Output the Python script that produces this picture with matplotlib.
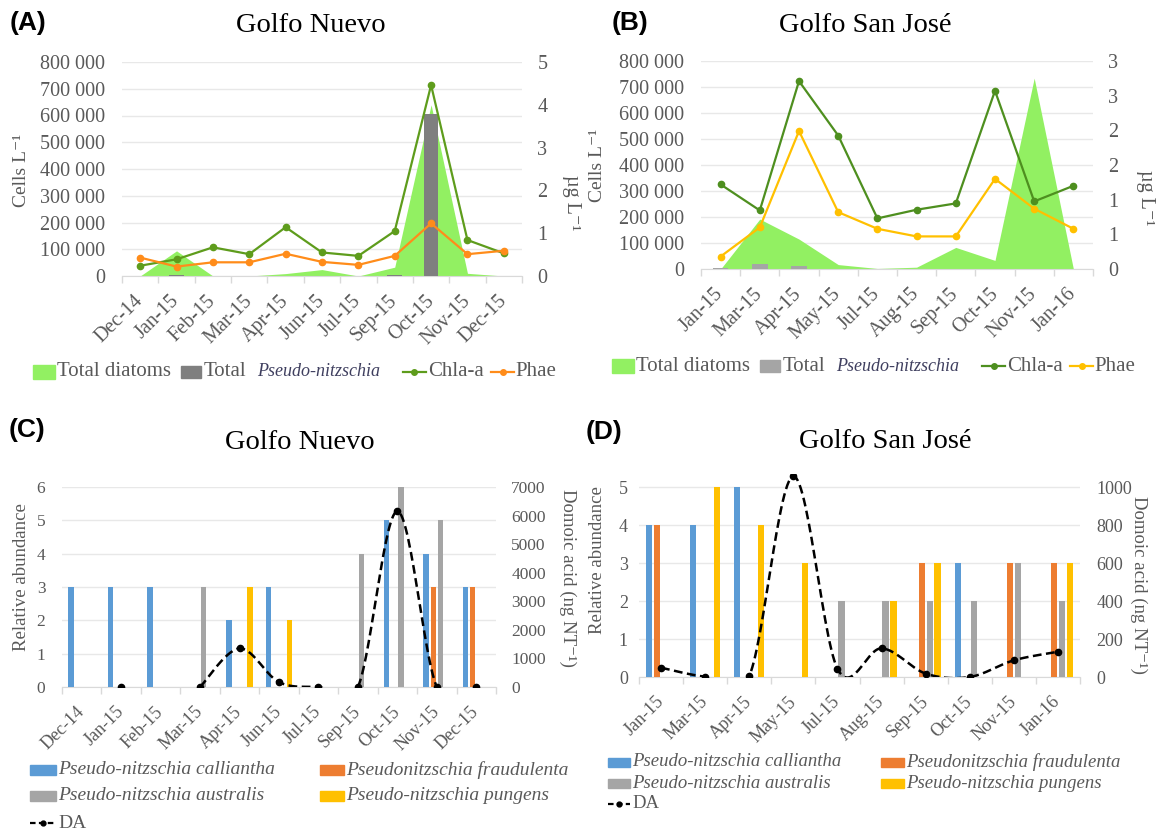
import numpy as np
import matplotlib
matplotlib.use('Agg')
import matplotlib.pyplot as plt
from matplotlib.patches import Rectangle
from matplotlib.lines import Line2D
from matplotlib.ticker import FuncFormatter

plt.rcParams['font.family'] = ['Liberation Serif', 'DejaVu Serif']

# ---- data ----
months_gn = ['Dec-14', 'Jan-15', 'Feb-15', 'Mar-15', 'Apr-15', 'Jun-15',
             'Jul-15', 'Sep-15', 'Oct-15', 'Nov-15', 'Dec-15']
months_gsj = ['Jan-15', 'Mar-15', 'Apr-15', 'May-15', 'Jul-15', 'Aug-15',
              'Sep-15', 'Oct-15', 'Nov-15', 'Jan-16']

# (A) Golfo Nuevo - cells L-1 and ug L-1
diatoms_gn = [0, 94000, 0, 0, 9000, 24000, 0, 33000, 640000, 10000, 0]
pn_total_gn = [0, 3000, 0, 0, 0, 0, 0, 3000, 605000, 0, 0]
chla_gn = [0.24, 0.39, 0.67, 0.51, 1.14, 0.55, 0.47, 1.05, 4.46, 0.84, 0.53]
phae_gn = [0.43, 0.22, 0.32, 0.32, 0.52, 0.33, 0.26, 0.47, 1.23, 0.51, 0.59]

# (B) Golfo San Jose
diatoms_gsj = [0, 192000, 115000, 17000, 2000, 7000, 83000, 33000, 734000, 0]
pn_total_gsj = [2000, 19000, 10000, 0, 0, 0, 0, 0, 0, 0]
chla_gsj = [1.22, 0.845, 2.71, 1.925, 0.73, 0.855, 0.946, 2.57, 0.975, 1.2]
phae_gsj = [0.18, 0.60, 1.99, 0.82, 0.58, 0.47, 0.47, 1.30, 0.87, 0.58]

# (C) Golfo Nuevo - relative abundance and domoic acid
species = ['Pseudo-nitzschia calliantha', 'Pseudonitzschia fraudulenta',
           'Pseudo-nitzschia australis', 'Pseudo-nitzschia pungens']
calliantha_gn = [3, 3, 3, 0, 2, 3, 0, 0, 5, 4, 3]
fraudulenta_gn = [0, 0, 0, 0, 0, 0, 0, 0, 0, 3, 3]
australis_gn = [0, 0, 0, 3, 0, 0, 0, 4, 6, 5, 0]
pungens_gn = [0, 0, 0, 0, 3, 2, 0, 0, 0, 0, 0]
da_gn = [np.nan, 0, np.nan, 0, 1350, 170, 0, 0, 6150, 0, 0]

# (D) Golfo San Jose
calliantha_gsj = [4, 4, 5, 0, 0, 0, 0, 3, 0, 0]
fraudulenta_gsj = [4, 0, 0, 0, 0, 0, 3, 0, 3, 3]
australis_gsj = [0, 0, 0, 0, 2, 2, 2, 2, 3, 2]
pungens_gsj = [0, 5, 4, 3, 0, 2, 3, 0, 0, 3]
da_gsj = [49, 2, 5, 1058, 44, 151, 18, 0, 88, 133]

# ---- style ----
W, H = 1157, 831
TICK_C = '#595959'
AXIS_C = '#D9D9D9'
GRID_C = '#E8E8E8'
GREEN_AREA = '#92F062'
SP_COLORS = ['#5B9BD5', '#ED7D31', '#A5A5A5', '#FFC000']


def fx(px):
    return px / W


def fy(py):
    return 1 - py / H


def axes_px(fig, l, r, t, b):
    return fig.add_axes([fx(l), fy(b), (r - l) / W, (b - t) / H])


def thousands(v, pos):
    return '{:,}'.format(int(round(v))).replace(',', ' ')


def excel_round(v, pos):
    return str(int(np.floor(v + 0.5 + 1e-9)))


def base_axes(ax, cats, fs, xfs, pad_l):
    n = len(cats)
    ax.set_xlim(-0.5, n - 0.5)
    ax.set_xticks(range(n))
    ax.set_xticklabels(cats, rotation=45, ha='right', va='center',
                       rotation_mode='anchor', fontsize=xfs, color=TICK_C)
    ax.set_xticks(np.arange(-0.5, n), minor=True)
    ax.tick_params(axis='x', which='major', length=0, pad=16)
    ax.tick_params(axis='x', which='minor', length=5, color=AXIS_C, width=1)
    ax.tick_params(axis='y', length=0, pad=pad_l, labelsize=fs, labelcolor=TICK_C)
    for s in ['top', 'left', 'right']:
        ax.spines[s].set_visible(False)
    ax.spines['bottom'].set_color(AXIS_C)
    ax.grid(axis='y', color=GRID_C, lw=1)
    ax.set_axisbelow(True)


def right_axes(ax, fs, pad_r):
    ax2 = ax.twinx()
    for s in ax2.spines.values():
        s.set_visible(False)
    ax2.tick_params(axis='y', length=0, pad=pad_r, labelsize=fs, labelcolor=TICK_C)
    return ax2


def smooth_runs(y, steps=30):
    # Excel-like smoothed line: cubic Bezier through the points (Catmull-Rom)
    y = np.asarray(y, float)
    x = np.arange(len(y), dtype=float)
    runs, cur = [], []
    for i in range(len(y)):
        if np.isnan(y[i]):
            if cur:
                runs.append(cur)
            cur = []
        else:
            cur.append(i)
    if cur:
        runs.append(cur)
    t = np.linspace(0, 1, steps)[:, None]
    curves = []
    for r in runs:
        if len(r) < 2:
            continue
        p = np.column_stack([x[r], y[r]])
        seg = []
        for k in range(len(p) - 1):
            p0 = p[k - 1] if k > 0 else p[k]
            p3 = p[k + 2] if k + 2 < len(p) else p[k + 1]
            c1 = p[k] + (p[k + 1] - p0) / 6
            c2 = p[k + 1] - (p3 - p[k]) / 6
            seg.append((1 - t) ** 3 * p[k] + 3 * (1 - t) ** 2 * t * c1
                       + 3 * (1 - t) * t ** 2 * c2 + t ** 3 * p[k + 1])
        curves.append(np.vstack(seg))
    return curves


def patch_key(fig, x0, x1, y, color, h):
    fig.add_artist(Rectangle((fx(x0), fy(y + h / 2)), (x1 - x0) / W, h / H,
                             transform=fig.transFigure, color=color))


def line_key(fig, x0, x1, y, color, ls='-', ms=4):
    fig.add_artist(Line2D([fx(x0), fx(x1)], [fy(y), fy(y)], transform=fig.transFigure,
                          color=color, lw=1.6, ls=ls))
    fig.add_artist(Line2D([fx((x0 + x1) / 2)], [fy(y)], transform=fig.transFigure,
                          color=color, marker='o', ms=ms, lw=0))


def key_text(fig, x, y, s, size, style='normal', color=TICK_C):
    fig.text(fx(x), fy(y), s, fontsize=size, style=style, color=color,
             ha='left', va='center')


fig = plt.figure(figsize=(W / 100, H / 100), dpi=100)

# ================= (A) and (B) =================
top_panels = [
    dict(l=122, r=522, t=62, b=276, cats=months_gn, dia=diatoms_gn, pn=pn_total_gn,
         chla=chla_gn, phae=phae_gn, pn_c='#7F7F7F', chla_c='#5E9C1C', phae_c='#FF8C1A',
         rmax=5, rstep=1, rfmt=None),
    dict(l=701, r=1093, t=61, b=269, cats=months_gsj, dia=diatoms_gsj, pn=pn_total_gsj,
         chla=chla_gsj, phae=phae_gsj, pn_c='#A5A5A5', chla_c='#4E8F1F', phae_c='#FFC000',
         rmax=3, rstep=0.5, rfmt=excel_round),
]
for p in top_panels:
    ax = axes_px(fig, p['l'], p['r'], p['t'], p['b'])
    base_axes(ax, p['cats'], 14.5, 14.5, 12)
    xs = np.arange(len(p['cats']))
    ax.fill_between(xs, p['dia'], 0, color=GREEN_AREA, lw=0, zorder=2)
    ax.bar(xs, p['pn'], width=0.4, color=p['pn_c'], zorder=3)
    ax.set_ylim(0, 800000)
    ax.set_yticks(np.arange(0, 800001, 100000))
    ax.yaxis.set_major_formatter(FuncFormatter(thousands))
    ax2 = right_axes(ax, 14.5, 11)
    ax2.plot(xs, p['chla'], color=p['chla_c'], lw=1.6, marker='o', ms=4.5)
    ax2.plot(xs, p['phae'], color=p['phae_c'], lw=1.6, marker='o', ms=4.5)
    ax2.set_ylim(0, p['rmax'])
    ax2.set_yticks(np.arange(0, p['rmax'] + 0.01, p['rstep']))
    if p['rfmt'] is not None:
        ax2.yaxis.set_major_formatter(FuncFormatter(p['rfmt']))

fig.text(fx(21), fy(170), 'Cells L⁻¹', rotation=90, fontsize=14, color=TICK_C,
         ha='center', va='center')
fig.text(fx(571), fy(203), 'µg L⁻¹', rotation=270, fontsize=14.5, color=TICK_C,
         ha='center', va='center')
fig.text(fx(598), fy(165), 'Cells L⁻¹', rotation=90, fontsize=14, color=TICK_C,
         ha='center', va='center')
fig.text(fx(1146), fy(198), 'µg L⁻¹', rotation=270, fontsize=14.5, color=TICK_C,
         ha='center', va='center')

# legends for A and B
for dx, y, pn_c, chla_c, phae_c in [(0, 372, '#7F7F7F', '#5E9C1C', '#FF8C1A'),
                                    (579, 366, '#A5A5A5', '#4E8F1F', '#FFC000')]:
    patch_key(fig, 33 + dx, 55 + dx, y, GREEN_AREA, 14)
    key_text(fig, 57 + dx, y, 'Total diatoms', 15)
    patch_key(fig, 181 + dx, 201 + dx, y, pn_c, 12)
    key_text(fig, 204 + dx, y, 'Total', 15)
    key_text(fig, 257 + dx, y, 'Pseudo-nitzschia', 13, style='italic', color='#3F3F5F')
    line_key(fig, 403 + dx, 426 + dx, y, chla_c)
    key_text(fig, 428 + dx, y, 'Chla-a', 15)
    line_key(fig, 491 + dx, 514 + dx, y, phae_c)
    key_text(fig, 515 + dx, y, 'Phae', 15)

# ================= (C) and (D) =================
bottom_panels = [
    dict(l=62, r=496, t=487, b=687, cats=months_gn,
         sp=[calliantha_gn, fraudulenta_gn, australis_gn, pungens_gn], da=da_gn,
         lmax=6, ltop=6, rmax=7000, rtop=7000, rstep=1000, pad_l=12, pad_r=11, fs=12.5),
    dict(l=639, r=1080, t=474, b=677, cats=months_gsj,
         sp=[calliantha_gsj, fraudulenta_gsj, australis_gsj, pungens_gsj], da=da_gsj,
         lmax=5.35, ltop=5, rmax=1070, rtop=1000, rstep=200, pad_l=8, pad_r=12, fs=13),
]
offsets = [-0.27, -0.09, 0.09, 0.27]
for p in bottom_panels:
    ax = axes_px(fig, p['l'], p['r'], p['t'], p['b'])
    base_axes(ax, p['cats'], p['fs'], 13, p['pad_l'])
    xs = np.arange(len(p['cats']))
    for vals, off, c in zip(p['sp'], offsets, SP_COLORS):
        ax.bar(xs + off, vals, width=0.14, color=c, zorder=3)
    ax.set_ylim(0, p['lmax'])
    ax.set_yticks(np.arange(0, p['ltop'] + 1))
    ax2 = right_axes(ax, p['fs'], p['pad_r'])
    for cv in smooth_runs(p['da']):
        ax2.plot(cv[:, 0], cv[:, 1], color='black', lw=1.8, ls=(0, (3.5, 1.8)))
    ax2.plot(xs, p['da'], lw=0, marker='o', ms=4.5, color='black')
    ax2.set_ylim(0, p['rmax'])
    ax2.set_yticks(np.arange(0, p['rtop'] + 1, p['rstep']))

fig.text(fx(21), fy(577), 'Relative abundance', rotation=90, fontsize=13.5,
         color=TICK_C, ha='center', va='center')
fig.text(fx(568), fy(578), 'Domoic acid (ng NT⁻¹)', rotation=270, fontsize=13.5,
         color=TICK_C, ha='center', va='center')
fig.text(fx(598), fy(560), 'Relative abundance', rotation=90, fontsize=13.5,
         color=TICK_C, ha='center', va='center')
fig.text(fx(1139), fy(585), 'Domoic acid (ng NT⁻¹)', rotation=270, fontsize=13.5,
         color=TICK_C, ha='center', va='center')

# legends for C and D
for c1, c2, rows, ph, fs in [((30, 56), (320, 344), (770, 796, 823), 10, 14),
                             ((608, 630), (881, 904), (762, 783, 804), 9, 13.5)]:
    grid = [(c1, rows[0]), (c2, rows[0]), (c1, rows[1]), (c2, rows[1])]
    for (cx, ry), name, col in zip(grid, species, SP_COLORS):
        patch_key(fig, cx[0], cx[1], ry, col, ph)
        key_text(fig, cx[1] + 2, ry, name, fs, style='italic')
    line_key(fig, c1[0], c1[1], rows[2], 'black', ls=(0, (2.5, 1.5)), ms=3.5)
    key_text(fig, c1[1] + 2, rows[2], 'DA', fs)

# titles and panel letters
for x, y, s in [(311, 25, 'Golfo Nuevo'), (865, 25, 'Golfo San José'),
                (300, 443, 'Golfo Nuevo'), (885, 442, 'Golfo San José')]:
    fig.text(fx(x), fy(y), s, fontsize=20.5, ha='center', va='center')
for x, y, s in [(10, 23, '(A)'), (612, 23, '(B)'), (9, 430, '(C)'), (586, 432, '(D)')]:
    fig.text(fx(x), fy(y), s, fontsize=19, fontweight='bold',
             family=['Liberation Sans', 'DejaVu Sans'], ha='left', va='center')

fig.savefig('out.png', dpi=100)
